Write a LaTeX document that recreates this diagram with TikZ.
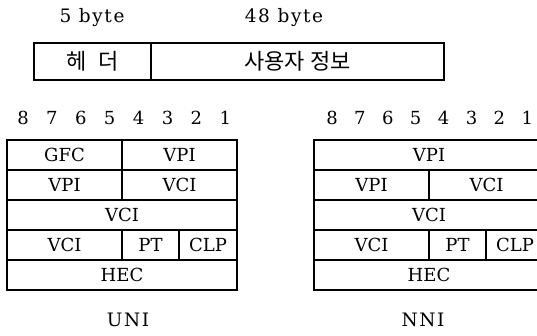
\documentclass[tikz,border=0pt]{standalone}
\usepackage{fontspec}
\setmainfont{DejaVu Serif}
\newfontfamily\kor{Noto Sans CJK KR}

\tikzset{
  field/.style={draw, line width=1.1pt, minimum height=30pt, inner sep=0pt,
    font=\fontsize{18}{22}\selectfont},
  lbl/.style={font=\fontsize{18}{22}\selectfont},
  wlbl/.style={font=\fontsize{18.5}{22}\selectfont\addfontfeature{LetterSpace=9}},
  kfield/.style={field, minimum height=37pt, font=\kor\fontsize{22}{24}\selectfont}
}

\begin{document}
\begin{tikzpicture}[x=1pt, y=-1pt]
    \useasboundingbox (0,0) rectangle (537,335);
    % cell: header + payload
    \node[wlbl] (h5) at (92,18) {5 byte};
    \node[wlbl] (p48) at (284,18) {48 byte};
    \node[kfield, minimum width=117pt] (hdr) at (92.5,61.5) {헤\hspace{0.55em}더};
    \node[kfield, minimum width=293pt] (pay) at (297.5,61.5) {사용자 정보\hspace{12pt}};
    % bit numbers
    \foreach \b [count=\i from 0] in {8,7,6,5,4,3,2,1} {
      \node[lbl] (u\b) at (23+28.9*\i,118) {\b};
      \node[lbl] (n\b) at (332+27.9*\i,118) {\b};
    }
    % UNI header
    \node[field, minimum width=115pt] (ugfc) at (64.5,155) {GFC};
    \node[field, minimum width=115pt] (uvpia) at (179.5,155) {VPI};
    \node[field, minimum width=115pt] (uvpib) at (64.5,185) {VPI};
    \node[field, minimum width=115pt] (uvcia) at (179.5,185) {VCI};
    \node[field, minimum width=230pt] (uvcib) at (122,215) {VCI};
    \node[field, minimum width=115pt] (uvcic) at (64.5,245) {VCI};
    \node[field, minimum width=57pt] (upt) at (150.5,245) {PT};
    \node[field, minimum width=58pt] (uclp) at (208,245) {CLP};
    \node[field, minimum width=230pt] (uhec) at (122,275) {HEC};
    \node[wlbl] (uni) at (128,320) {UNI};
    % NNI header
    \node[field, minimum width=230pt] (nvpia) at (429,155) {VPI};
    \node[field, minimum width=115pt] (nvpib) at (371.5,185) {VPI};
    \node[field, minimum width=115pt] (nvcia) at (486.5,185) {VCI};
    \node[field, minimum width=230pt] (nvcib) at (429,215) {VCI};
    \node[field, minimum width=115pt] (nvcic) at (371.5,245) {VCI};
    \node[field, minimum width=57pt] (npt) at (457.5,245) {PT};
    \node[field, minimum width=58pt] (nclp) at (515,245) {CLP};
    \node[field, minimum width=230pt] (nhec) at (429,275) {HEC};
    \node[wlbl] (nni) at (423,320) {NNI};
  \end{tikzpicture}
\end{document}
